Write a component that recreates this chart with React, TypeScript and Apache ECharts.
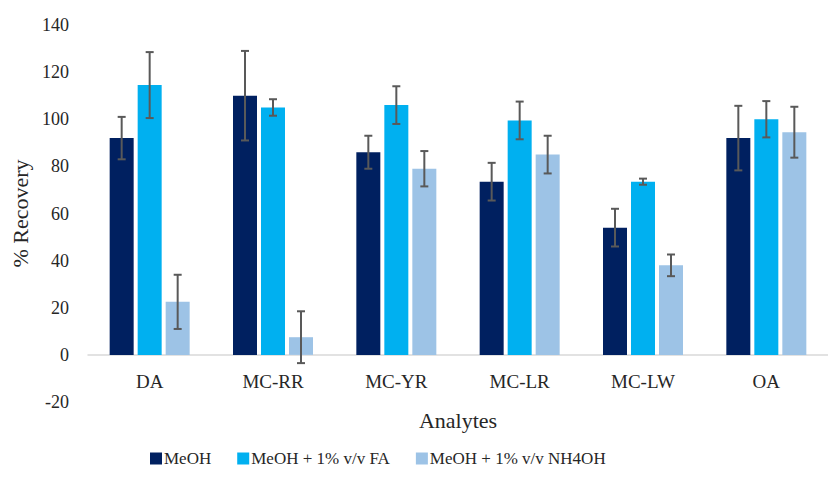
import React, { useEffect, useRef } from "react";
import * as echarts from "echarts";

const categories = ["DA", "MC-RR", "MC-YR", "MC-LR", "MC-LW", "OA"];
const seriesNames = ["MeOH", "MeOH + 1% v/v FA", "MeOH + 1% v/v NH4OH"];
const meoh = [92, 110, 86, 73.5, 54, 92];
const meohErr = [9, 19, 7, 8, 8, 13.7];
const fa = [114.5, 105, 106, 99.5, 73.5, 100];
const faErr = [14, 3.5, 8, 8, 1.3, 7.7];
const nh4oh = [22.5, 7.5, 79, 85, 38, 94.5];
const nh4ohErr = [11.5, 11, 7.5, 8, 4.6, 10.8];
const colors = ["#002060", "#00B0F0", "#9DC3E6"];
const yTicks = { min: -20, max: 140, interval: 20 };

const FONT = "'Liberation Serif', 'DejaVu Serif', serif";
const TEXT = "#262626";

export default function App() {
  const ref = useRef<HTMLDivElement>(null);
  useEffect(() => {
    if (!ref.current) return;
    const chart = echarts.init(ref.current, null, { renderer: "svg" });
    const values = [meoh, fa, nh4oh];
    const errs = [meohErr, faErr, nh4ohErr];
    const errData: number[][] = [];
    values.forEach((arr, s) => {
      arr.forEach((v, i) => {
        errData.push([i, v - errs[s][i], v + errs[s][i], s - 1]);
      });
    });
    const barW = 24;
    const gap = 4;
    const gridTop = 25;
    const gridBottomPx = 402;
    const zeroOffset = ((gridBottomPx - gridTop) * (0 - yTicks.min)) / (yTicks.max - yTicks.min);
    chart.setOption({
      animation: false,
      grid: { left: 88, width: 751, top: gridTop, bottom: 486 - gridBottomPx, containLabel: false },
      legend: {
        data: seriesNames,
        left: 145,
        top: 445,
        icon: "rect",
        itemWidth: 12,
        itemHeight: 12,
        itemGap: 26,
        textStyle: { fontFamily: FONT, fontSize: 17, color: TEXT, padding: [0, 0, 0, -3] },
      },
      xAxis: {
        type: "category",
        data: categories,
        offset: -zeroOffset,
        name: "Analytes",
        nameLocation: "middle",
        nameGap: 55,
        nameTextStyle: { fontFamily: FONT, fontSize: 22, color: TEXT },
        axisLine: { show: true, onZero: false, lineStyle: { color: "#D9D9D9", width: 1.5 } },
        axisTick: { show: false },
        axisLabel: { fontFamily: FONT, fontSize: 19, color: TEXT, margin: 17 },
        splitLine: { show: false },
      },
      yAxis: {
        type: "value",
        min: yTicks.min,
        max: yTicks.max,
        interval: yTicks.interval,
        name: "% Recovery",
        nameLocation: "middle",
        nameGap: 55,
        nameTextStyle: { fontFamily: FONT, fontSize: 22, color: TEXT },
        axisLine: { show: false },
        axisTick: { show: false },
        splitLine: { show: false },
        axisLabel: { fontFamily: FONT, fontSize: 18, color: TEXT, margin: 19 },
      },
      series: [
        ...values.map((arr, s) => ({
          type: "bar",
          name: seriesNames[s],
          data: arr,
          barWidth: barW,
          barGap: (gap / barW) * 100 + "%",
          itemStyle: { color: colors[s] },
        })),
        {
          type: "custom",
          name: "err",
          data: errData,
          encode: { x: 0, y: [1, 2] },
          z: 10,
          renderItem: (params: any, api: any) => {
            const x = api.value(0);
            const lo = api.coord([x, api.value(1)]);
            const hi = api.coord([x, api.value(2)]);
            const cx = hi[0] + api.value(3) * (barW + gap);
            const style = { stroke: "#595959", lineWidth: 2 };
            const cap = 4;
            return {
              type: "group",
              children: [
                { type: "line", shape: { x1: cx, y1: hi[1], x2: cx, y2: lo[1] }, style },
                { type: "line", shape: { x1: cx - cap, y1: hi[1], x2: cx + cap, y2: hi[1] }, style },
                { type: "line", shape: { x1: cx - cap, y1: lo[1], x2: cx + cap, y2: lo[1] }, style },
              ],
            };
          },
        },
      ],
    });
    return () => chart.dispose();
  }, []);
  return <div ref={ref} style={{ width: 828, height: 486, position: "absolute", left: 0, top: 0 }} />;
}
